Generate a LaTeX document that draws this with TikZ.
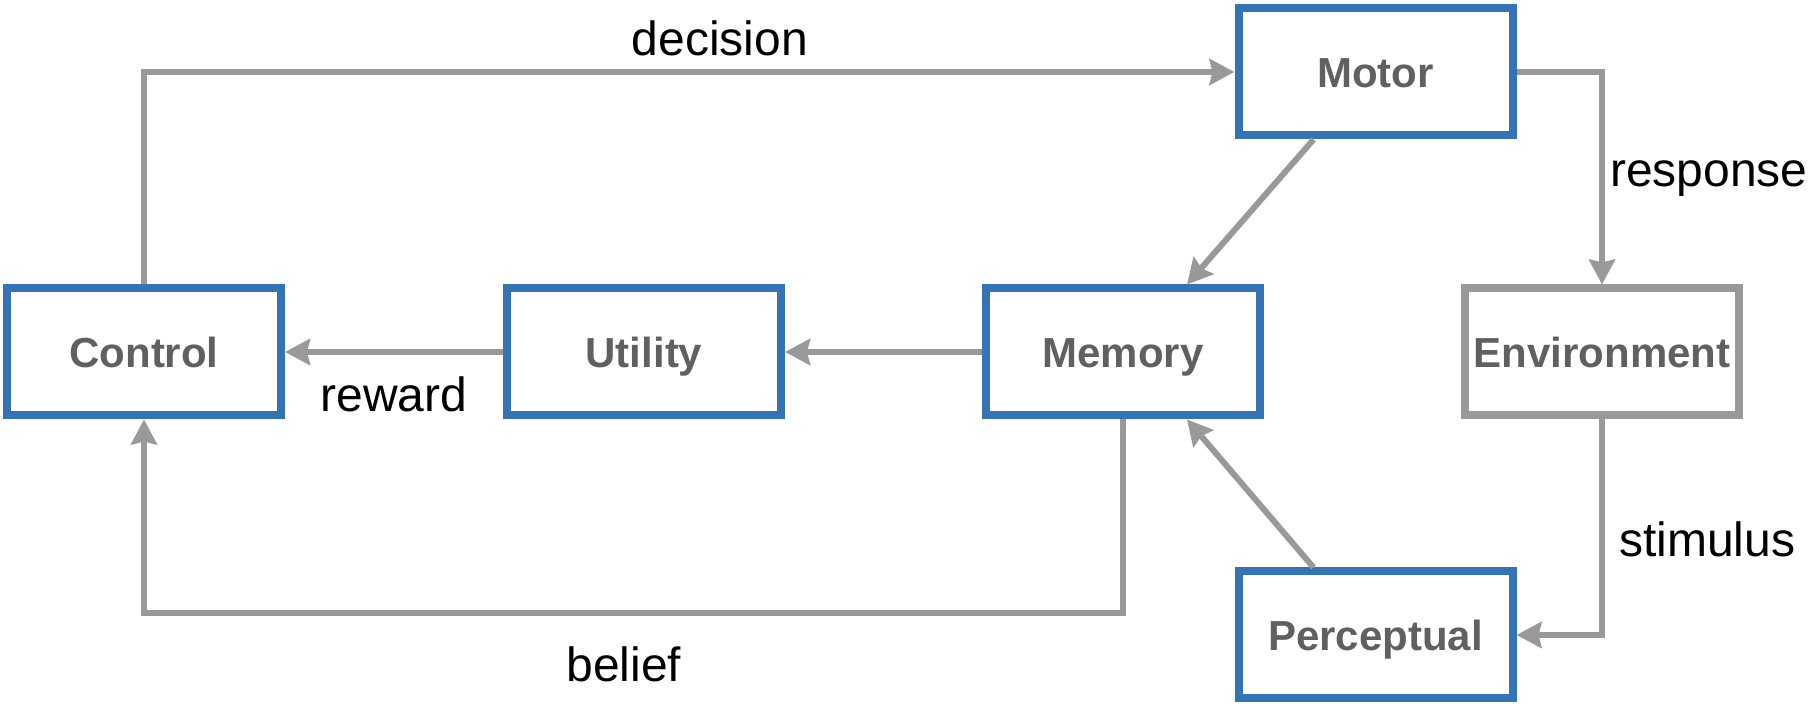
\documentclass[tikz,border=0pt]{standalone}
\usepackage{fontspec}
\setmainfont{Liberation Sans}
\usepackage{xcolor}
\usepackage{tikz}
\usetikzlibrary{arrows.meta, positioning}

\definecolor{boxblue}{RGB}{52,116,182}
\definecolor{linegray}{RGB}{153,153,153}
\definecolor{textgray}{RGB}{96,96,96}

\begin{document}
\begin{tikzpicture}[
  node distance = 98.5pt,
  box/.style = {rectangle, draw=boxblue, line width=4pt,
                minimum width=137pt, minimum height=63.5pt,
                text height=15.3pt, text depth=0pt,
                text=textgray, font=\fontsize{21}{25}\selectfont\bfseries},
  envbox/.style = {box, draw=linegray},
  lbl/.style = {font=\fontsize{24}{29}\selectfont, inner sep=2pt},
  arr/.style = {-{Stealth[length=12.5pt, width=13pt, inset=1.5pt]},
                draw=linegray, line width=3pt},
]

\useasboundingbox (0,0) rectangle (910pt,-352pt);

\node[box] (control) at (72pt,-176pt) {Control};
\node[box, right=109pt of control] (utility) {Utility};
\node[box, right=of utility] (memory) {Memory};
\node[envbox, right=of memory] (environment) {Environment};
\node[box, above=72.5pt of memory, xshift=126.25pt] (motor) {Motor};
\node[box, below=74pt of memory, xshift=126.25pt] (perceptual) {Perceptual};

\draw[arr] (control.north) |- node[lbl, above=4.5pt, pos=0.764]{decision} (motor.west);
\draw[arr] (motor.east) -| node[lbl, right=0.5pt, pos=0.75]{response} (environment.north);
\draw[arr] (environment.south) |- node[lbl, right=5pt, pos=0.279]{stimulus} (perceptual.east);
\draw[arr] ([xshift=-31pt]motor.south) -- ([xshift=32pt]memory.north);
\draw[arr] ([xshift=-31pt]perceptual.north) -- ([xshift=32pt]memory.south);
\draw[arr] (memory.west) -- (utility.east);
\draw[arr] (utility.west) -- node[lbl, below=9pt]{reward} (control.east);
\draw[arr] (memory.south) -- ++(0,-97pt) -| node[lbl, below=13pt, pos=0.255]{belief} (control.south);

\end{tikzpicture}
\end{document}
